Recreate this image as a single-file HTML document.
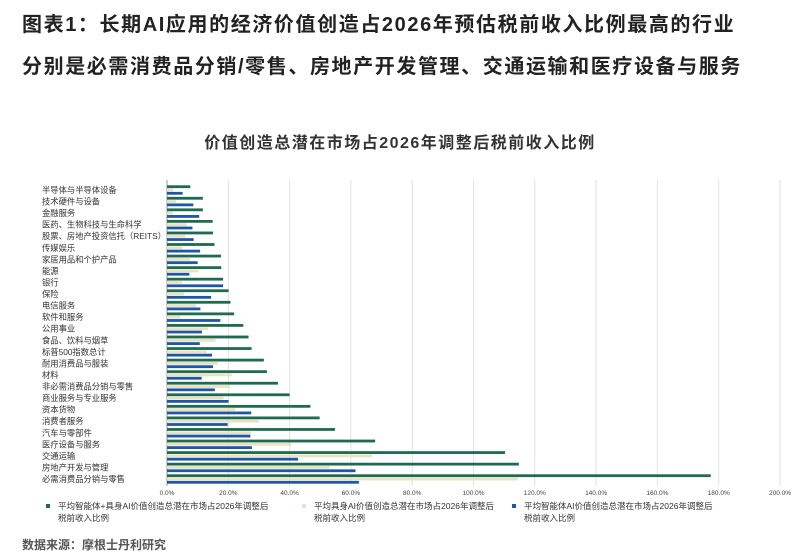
<!DOCTYPE html>
<html><head><meta charset="utf-8">
<style>
body{margin:0;background:#fff;width:800px;height:560px;overflow:hidden;font-family:"Liberation Sans","Noto Sans CJK SC",sans-serif;}
.t{position:absolute;left:22px;font-size:20px;font-weight:bold;color:#222;letter-spacing:1.6px;white-space:nowrap}
</style></head><body>
<div class="t" style="top:8px">图表1：长期AI应用的经济价值创造占2026年预估税前收入比例最高的行业</div>
<div class="t" style="top:50px">分别是必需消费品分销/零售、房地产开发管理、交通运输和医疗设备与服务</div>
<svg id="chart" width="800" height="560" style="position:absolute;left:0;top:0"></svg>
<div style="position:absolute;left:22px;top:536px;font-size:12px;font-weight:bold;color:#555">数据来源：摩根士丹利研究</div>
<script>
const categories=["半导体与半导体设备","技术硬件与设备","金融服务","医药、生物科技与生命科学","股票、房地产投资信托（REITS）","传媒娱乐","家居用品和个护产品","能源","银行","保险","电信服务","软件和服务","公用事业","食品、饮料与烟草","标普500指数总计","耐用消费品与服装","材料","非必需消费品分销与零售","商业服务与专业服务","资本货物","消费者服务","汽车与零部件","医疗设备与服务","交通运输","房地产开发与管理","必需消费品分销与零售"];
const totalVals=[7.6,11.7,11.7,14.9,15,15.5,17.6,17.7,18.3,20.1,20.7,21.9,24.9,26.6,27.6,31.6,32.6,36.2,40,46.8,49.8,54.8,67.9,110.3,114.8,177.4];
const embodiedVals=[2,3,2,6.5,6,5,7.6,10.3,5,5.6,9.5,4.3,13.4,15.9,13,16.6,21.1,20.7,18.5,22.3,30,27.4,40.6,67,53,114.5];
const agentVals=[5.1,8.6,10.5,8.3,8.7,10.8,10,7.3,18.3,14.4,10.9,17.4,11.4,10.7,14.7,15,11.3,15.6,20.1,27.5,19.8,27.2,27.7,42.8,61.5,62.6];
const tickVals=[0,20,40,60,80,100,120,140,160,180,200];
const legendLabels=[["平均智能体+具身AI价值创造总潜在市场占2026年调整后","税前收入比例"],["平均具身AI价值创造总潜在市场占2026年调整后","税前收入比例"],["平均智能体AI价值创造总潜在市场占2026年调整后","税前收入比例"]];
const colors=["#1f6b4f","#e8e3c4","#1f56a8"];
const ns="http://www.w3.org/2000/svg",svg=document.getElementById("chart");
const x0=167,x1=780,y0=190,pitch=11.56;
const X=v=>x0+(x1-x0)*v/200;
const Y=i=>y0+i*pitch;
function mk(t,a,p){const e=document.createElementNS(ns,t);for(const k in a)e.setAttribute(k,a[k]);(p||svg).appendChild(e);return e;}
let tt=mk("text",{x:400,y:148,"text-anchor":"middle","font-size":"16","font-weight":"bold",fill:"#333","letter-spacing":"1.5"});tt.textContent="价值创造总潜在市场占2026年调整后税前收入比例";


tickVals.forEach(v=>{
 const l=mk("line",{x1:X(v),x2:X(v),y1:180,y2:486,stroke:v===0?"#999":"#e2e2e2","stroke-width":1});
 
 
 const t=mk("text",{x:X(v),y:495,"text-anchor":"middle","font-size":"6.5",fill:"#444"});t.textContent=v.toFixed(1)+"%";
 
 
});
const series=[totalVals,embodiedVals,agentVals];
categories.forEach((c,i)=>{
 const t=mk("text",{x:42,y:Y(i)+3,"font-size":"8.3",fill:"#333"});t.textContent=c;
 
 
 series.forEach((s,k)=>{
  const r=mk("rect",{x:x0,y:Y(i)-4.7+k*3.3,width:Math.max(0,X(s[i])-x0),height:2.8,fill:colors[k]});
  
  
 });
});
const lx=[46,302,512];
legendLabels.forEach((lb,k)=>{
 const g=mk("g",{});
 
 
 mk("rect",{x:lx[k],y:504,width:4,height:4,fill:colors[k]},g);
 lb.forEach((s,j)=>{const t=mk("text",{x:lx[k]+12,y:509+j*12,"font-size":"8.5",fill:"#333"},g);t.textContent=s;});
});
</script>
</body></html>
